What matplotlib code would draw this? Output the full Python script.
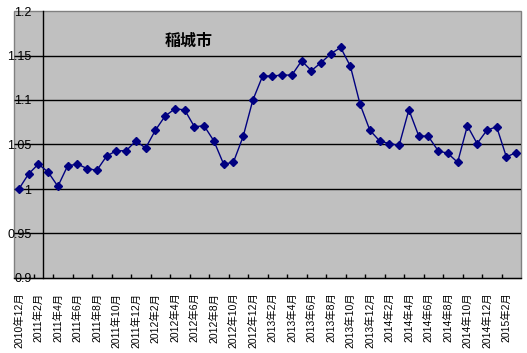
import numpy as np
import matplotlib
matplotlib.use("Agg")
import matplotlib.pyplot as plt
from matplotlib.patches import Rectangle

plt.rcParams['font.family'] = ['Liberation Sans', 'Noto Sans CJK JP', 'DejaVu Sans']

# months 2010/12 .. 2015/3
months = []
y, m = 2010, 12
for i in range(52):
    months.append(f"{y}年{m}月")
    m += 1
    if m > 12:
        y, m = y + 1, 1

values = [1.000, 1.017, 1.028, 1.019, 1.003, 1.026, 1.028, 1.023, 1.021, 1.037,
          1.043, 1.043, 1.054, 1.046, 1.066, 1.082, 1.090, 1.089, 1.070, 1.071,
          1.054, 1.028, 1.030, 1.059, 1.100, 1.127, 1.127, 1.128, 1.128, 1.144,
          1.133, 1.142, 1.152, 1.159, 1.138, 1.095, 1.066, 1.054, 1.051, 1.049,
          1.089, 1.060, 1.059, 1.043, 1.040, 1.030, 1.071, 1.051, 1.066, 1.070,
          1.036, 1.041]

yticks = [0.9, 0.95, 1.0, 1.05, 1.1, 1.15, 1.2]
ylabels = ["0.9", "0.95", "1", "1.05", "1.1", "1.15", "1.2"]
title = "稲城市"

W, H = 527, 353
fig = plt.figure(figsize=(W / 100, H / 100), dpi=100)
ax = fig.add_axes([14 / W, 75 / H, (521 - 14) / W, (342 - 75) / H])
ax.set_facecolor('#c0c0c0')

x = np.arange(len(values))
ax.hlines(yticks[1:-1], -0.5, len(values) - 0.5, color='black', lw=1.0, zorder=1)
ax.plot(x, values, color='#000080', lw=1.0, marker='D', ms=4.5,
        markerfacecolor='#000080', markeredgecolor='#000080', zorder=3)

ax.set_xlim(-0.5, len(values) - 0.5)
ax.set_ylim(0.9, 1.2)

# border of plot area
ax.add_patch(Rectangle((0, 0), 1, 1, transform=ax.transAxes, fill=False,
                       edgecolor='#808080', lw=1.0, zorder=0.5, clip_on=False))
ax.spines['top'].set_visible(False)
ax.spines['right'].set_visible(False)
ax.spines['left'].set_position(('data', 2.5))
ax.spines['left'].set_color('black')
ax.spines['bottom'].set_color('black')
for s in ('left', 'bottom'):
    ax.spines[s].set_linewidth(1.0)
    ax.spines[s].set_zorder(2)

ax.set_yticks(yticks)
ax.set_yticklabels(ylabels, fontsize=9)
ax.tick_params(axis='y', length=0, pad=8.5)

ax.set_xticks(x[::2])
ax.set_xticklabels(months[::2], rotation=90, fontsize=7.5, va='top', ha='center')
ax.set_xticks(np.arange(1.5, len(values) - 0.5, 2), minor=True)
ax.tick_params(axis='x', which='major', length=0, pad=10.5)
ax.tick_params(axis='x', which='minor', direction='in', length=3, width=1, color='black')

fig.text(189 / W, 1 - 41 / H, title, fontsize=11.5, fontweight='bold',
         ha='center', va='center', family=['Noto Sans CJK JP'])

fig.savefig('out.png', dpi=100)
